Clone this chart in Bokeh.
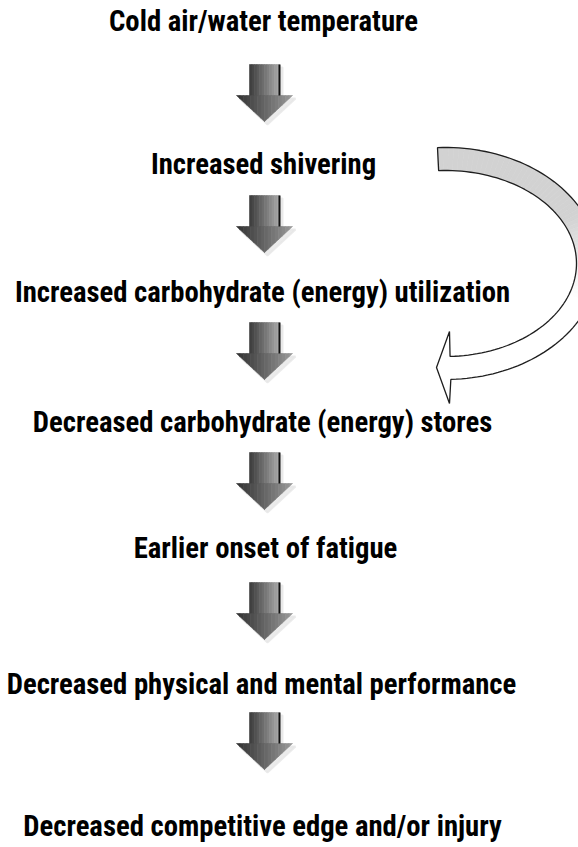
import numpy as np
from bokeh.plotting import figure
from bokeh.models import Range1d, ColumnDataSource
from bokeh.core.properties import value
from bokeh.embed import file_html
from bokeh.resources import INLINE

# ---- content ----
steps = [
    "Cold air/water temperature",
    "Increased shivering",
    "Increased carbohydrate (energy) utilization",
    "Decreased carbohydrate (energy) stores",
    "Earlier onset of fatigue",
    "Decreased physical and mental performance",
    "Decreased competitive edge and/or injury",
]
# feedback link: from step index -> to step index
feedback_from = 1
feedback_to = 3

# ---- layout (pixel-like coordinates of the page) ----
step_x = [263, 263, 262, 262, 265, 261, 262]
step_y = [20, 163, 291, 421, 547, 683, 825]
arrow_top = [64, 195, 322, 452, 582, 712]
arrow_cx = 264

W, H = 578, 847
p = figure(width=W, height=H, output_backend="svg", toolbar_location=None,
           x_range=Range1d(0, W), y_range=Range1d(H, 0),
           min_border=0, x_axis_location=None, y_axis_location=None,
           background_fill_color="white", border_fill_color="white")
p.outline_line_color = None
p.xgrid.visible = False
p.ygrid.visible = False


def gray(v):
    v = int(max(0, min(255, round(v))))
    return "#%02x%02x%02x" % (v, v, v)


# ---- down arrows (horizontal gradient simulated by strips) ----
SW, HW, SH, TOT = 15, 28, 31, 57
sxs, sys_, scol = [], [], []
shx, shy = [], []
for top in arrow_top:
    cx = arrow_cx
    yh = top + SH
    tip = top + TOT
    off = 3
    shx.append([cx - SW + off, cx + SW + off, cx + SW + off, cx + HW + off, cx + off, cx - HW + off, cx - SW + off])
    shy.append([top + off, top + off, yh + off, yh + off, tip + off, yh + off, yh + off])
    edges = np.linspace(cx - SW, cx + SW, 13)
    for i in range(len(edges) - 1):
        a, b = edges[i], edges[i + 1]
        f = (i + 0.5) / (len(edges) - 1)
        sxs.append([a, b, b, a])
        sys_.append([top, top, yh + 0.5, yh + 0.5])
        scol.append(gray(0x3a + (0xaa - 0x3a) * f))
    edges = np.linspace(cx - HW, cx + HW, 17)

    def ybot(x):
        if x <= cx:
            return yh + (x - (cx - HW)) / HW * (tip - yh)
        return yh + ((cx + HW) - x) / HW * (tip - yh)

    for i in range(len(edges) - 1):
        a, b = edges[i], edges[i + 1]
        f = (i + 0.5) / (len(edges) - 1)
        sxs.append([a, b, b, a])
        sys_.append([yh, yh, ybot(b), ybot(a)])
        scol.append(gray(0x30 + (0x9a - 0x30) * f))

p.patches(xs=shx, ys=shy, fill_color="#e6e6e6", line_color="#e6e6e6", line_width=2, alpha=0.8)
p.patches(xs=sxs, ys=sys_, fill_color=scol, line_color=scol, line_width=0.6)
p.segment(x0=[arrow_cx + SW] * len(arrow_top), y0=arrow_top,
          x1=[arrow_cx + SW] * len(arrow_top), y1=[t + SH for t in arrow_top],
          line_color="#111111", line_width=2)

# ---- curved feedback arrow ----
ecx, ecy = 445, 263
orx, ory = 153, 116
irx, iry = 131, 93
t0, t1 = np.radians(-93), np.radians(88)
M = 90
th = np.linspace(t0, t1, M + 1)
ox, oy = ecx + orx * np.cos(th), ecy + ory * np.sin(th)
ix, iy = ecx + irx * np.cos(th), ecy + iry * np.sin(th)

bx, by, bcol = [], [], []
for k in range(M):
    ym = (oy[k] + iy[k] + oy[k + 1] + iy[k + 1]) / 4
    f = min(1, max(0, (ym - 215) / 85))
    c = gray(0xd2 + (0xff - 0xd2) * f)
    bx.append([ox[k], ox[k + 1], ix[k + 1], ix[k]])
    by.append([oy[k], oy[k + 1], iy[k + 1], iy[k]])
    bcol.append(c)
p.patches(xs=bx, ys=by, fill_color=bcol, line_color=bcol, line_width=0.6)

head_x = [ox[-1], 449, 436, 449, ix[-1]]
head_y = [oy[-1], 403, 367, 331, iy[-1]]
outline_x = list(ox) + head_x[1:4] + list(ix[::-1])
outline_y = list(oy) + head_y[1:4] + list(iy[::-1])
p.patch(x=head_x, y=head_y, fill_color="white", line_color=None)
p.patch(x=outline_x, y=outline_y, fill_color=None, line_color="#1e1e1e", line_width=1.3)

# ---- step texts ----
FONT = "'Roboto Condensed', 'Open Sans Condensed', 'Liberation Sans Narrow', 'DejaVu Sans Condensed', 'Liberation Sans', sans-serif"
src = ColumnDataSource(dict(x=step_x, y=step_y, text=steps))
p.text(x="x", y="y", text="text", source=src,
       text_font=value(FONT), text_font_style="bold",
       text_font_size="28.7px", text_align="center", text_baseline="middle",
       text_color="#000000")

open("out.html", "w").write(file_html(p, INLINE))
